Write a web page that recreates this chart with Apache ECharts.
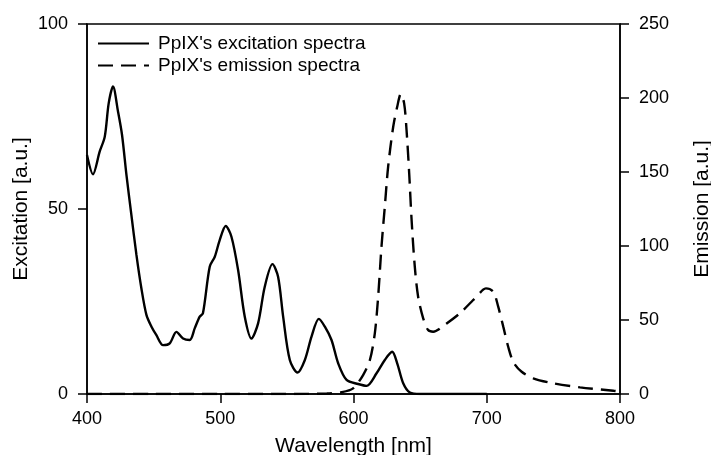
<!DOCTYPE html>
<html>
<head>
<meta charset="utf-8">
<script src="https://cdn.jsdelivr.net/npm/echarts@6/dist/echarts.min.js"></script>
<style>html,body{margin:0;padding:0;background:#fff;}#c{width:711px;height:455px;}</style>
</head>
<body>
<div id="c"></div>
<script>
const excWavelength = [400, 404.5, 409.5, 413.3, 416.3, 419.5, 423.3, 426.3, 429.6, 433.3, 437.1, 440.8, 444.6, 448.4, 452.1, 457.1, 462.1, 467.1, 472.1, 477.1, 480.9, 484.6, 487, 492.1, 495.9, 499.6, 504.1, 508.4, 513.4, 518.4, 523.4, 528.4, 533.4, 539.2, 543.4, 547.2, 552.2, 558, 563.5, 568.5, 574, 578.5, 583.5, 588.5, 594.8, 603.5, 609.8, 617.3, 623.5, 629, 632.8, 637.3, 642.3, 650, 700];
const excValue = [64.6, 59.4, 65.5, 69.5, 78.6, 83.1, 76.3, 70, 59.2, 48.4, 37.6, 28.6, 21.4, 18.2, 15.9, 13.2, 13.7, 16.8, 15.0, 14.6, 17.8, 20.9, 21.8, 34.4, 37.1, 41.6, 45.4, 42.5, 33.5, 20.9, 15.0, 19.1, 29, 35.1, 31.7, 20.9, 9.2, 5.8, 9.2, 15.5, 20.3, 18.2, 14.6, 8.3, 3.8, 2.7, 2.2, 5.6, 9.2, 11.4, 8.3, 2.9, 0.4, 0, 0];
const emWavelength = [400, 450, 500, 550, 580, 591, 599.7, 607.2, 612.3, 616, 618.5, 621, 623.5, 626, 629.8, 632.8, 635.5, 638, 639.8, 641.8, 643.6, 646, 648.5, 652.3, 656, 659.8, 669.9, 679.8, 689.8, 697.3, 699.4, 704.9, 708.6, 712.4, 716.1, 720, 726.2, 734.9, 749.9, 770, 795, 800];
const emValue = [0, 0, 0, 0, 0.3, 1.2, 3.8, 12.8, 23, 41, 65.7, 99.5, 126.6, 153.6, 180.6, 194.1, 202.7, 196.4, 178.4, 149, 117.6, 86, 65.7, 51.1, 43.2, 42.1, 47.7, 54.5, 63.5, 70.5, 71.4, 69.1, 59, 45.5, 31.9, 21.5, 15, 10.6, 7.2, 4.5, 2.2, 1.5];
const xTicks = [400, 500, 600, 700, 800];
const leftTicks = [0, 50, 100];
const rightTicks = [0, 50, 100, 150, 200, 250];

const FONT = 'Liberation Sans';
const zip = (a, b) => a.map((v, i) => [v, b[i]]);

const chart = echarts.init(document.getElementById('c'), null, {renderer: 'canvas'});
const axisCommon = {
  axisLine: {show: true, lineStyle: {color: '#000', width: 1.5}},
  axisTick: {show: true, inside: false, length: 9, lineStyle: {color: '#000', width: 1.5}},
  splitLine: {show: false},
  axisLabel: {color: '#000', fontFamily: FONT, fontSize: 18, margin: 19},
  nameTextStyle: {color: '#000', fontFamily: FONT, fontSize: 21},
  nameLocation: 'middle',
  nameMoveOverlap: false
};
chart.setOption({
  animation: false,
  backgroundColor: '#fff',
  grid: {left: 87, right: 91, top: 24, bottom: 61, outerBoundsMode: 'none', containLabel: false,
    show: true, borderColor: '#000', borderWidth: 1.5, backgroundColor: 'transparent'},
  legend: {
    orient: 'vertical', left: 92, top: 29, itemWidth: 51, itemHeight: 14, itemGap: 3,
    itemStyle: {opacity: 0},
    textStyle: {color: '#000', fontFamily: FONT, fontSize: 19, padding: [0, 0, 0, 4]},
    data: ["PpIX's excitation spectra", "PpIX's emission spectra"]
  },
  xAxis: Object.assign({}, axisCommon, {
    type: 'value', min: xTicks[0], max: xTicks[xTicks.length - 1], interval: 100,
    name: 'Wavelength [nm]', nameGap: 42,
    axisLabel: {color: '#000', fontFamily: FONT, fontSize: 18, margin: 16}
  }),
  yAxis: [
    Object.assign({}, axisCommon, {
      type: 'value', min: leftTicks[0], max: leftTicks[leftTicks.length - 1], interval: 50,
      name: 'Excitation [a.u.]', nameGap: 55, position: 'left'
    }),
    Object.assign({}, axisCommon, {
      type: 'value', min: rightTicks[0], max: rightTicks[rightTicks.length - 1], interval: 50,
      name: 'Emission [a.u.]', nameGap: 72, position: 'right'
    })
  ],
  series: [
    {
      name: "PpIX's excitation spectra", type: 'line', yAxisIndex: 0, xAxisIndex: 0,
      data: zip(excWavelength, excValue), symbol: 'none', smooth: 0.3,
      lineStyle: {color: '#000', width: 2.4}, itemStyle: {color: '#000'}
    },
    {
      name: "PpIX's emission spectra", type: 'line', yAxisIndex: 1, xAxisIndex: 0,
      data: zip(emWavelength, emValue), symbol: 'none', smooth: 0.3,
      lineStyle: {color: '#000', width: 2.4, type: [15, 8]}, itemStyle: {color: '#000'}
    }
  ]
});
</script>
</body>
</html>
